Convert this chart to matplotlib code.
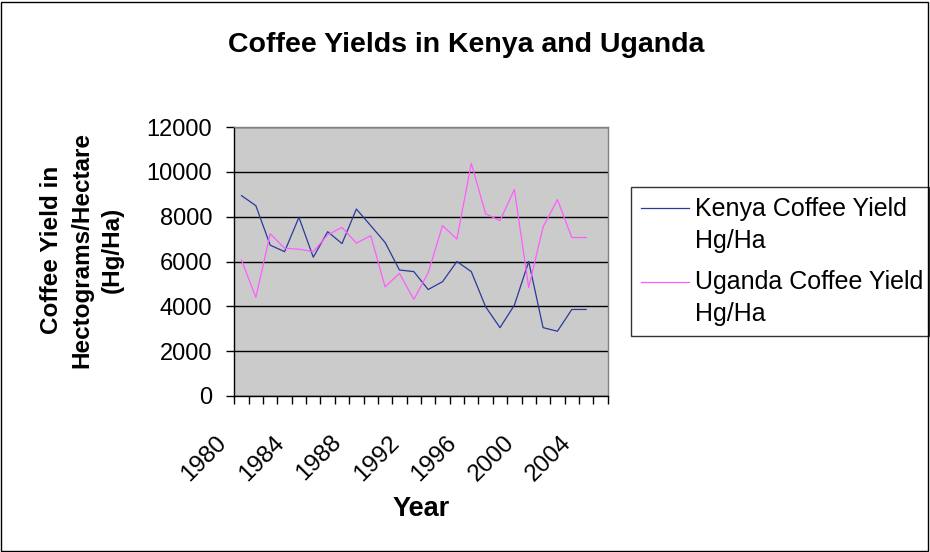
import matplotlib
matplotlib.use("Agg")
import matplotlib.pyplot as plt
import matplotlib.lines as mlines
from matplotlib.patches import Rectangle
from matplotlib.legend_handler import HandlerLine2D
from matplotlib.transforms import ScaledTranslation
import numpy as np

years = list(range(1980, 2006))
kenya = [8940, 8490, 6730, 6440, 7970, 6190, 7330, 6800, 8340, 7600, 6850, 5620,
         5550, 4750, 5100, 6000, 5550, 3980, 3050, 4050, 6000, 3050, 2890, 3860, 3860]
uganda = [6070, 4400, 7240, 6590, 6550, 6440, 7190, 7520, 6820, 7150, 4870, 5470,
          4310, 5500, 7600, 7000, 10380, 8130, 7820, 9210, 4840, 7540, 8760, 7070, 7070]
tick_years = [1980, 1984, 1988, 1992, 1996, 2000, 2004]
yticks = [0, 2000, 4000, 6000, 8000, 10000, 12000]

plt.rcParams['font.family'] = ['Liberation Sans', 'DejaVu Sans']

fig = plt.figure(figsize=(9.3, 5.52), dpi=100)
W, H = 930, 552
ax = fig.add_axes([234.3 / W, 1 - 396 / H, (607.7 - 234.3) / W, (396 - 127) / H])
ax.set_facecolor('#CBCBCB')

idx_k = np.arange(len(kenya))
idx_u = np.arange(len(uganda))
ax.plot(idx_k, kenya, color='#2A3A9C', lw=0.9, label='Kenya Coffee Yield\nHg/Ha')
ax.plot(idx_u, uganda, color='#FF5CFF', lw=0.9, label='Uganda Coffee Yield\nHg/Ha')

ax.set_xlim(-0.5, len(years) - 0.5)
ax.set_ylim(0, 12000)
ax.set_yticks(yticks)
ax.set_yticklabels([str(v) for v in yticks], fontsize=17)
ax.yaxis.grid(True, color='black', lw=1)
ax.set_axisbelow(True)

ax.set_xticks([years.index(y) for y in tick_years])
ax.set_xticklabels([str(y) for y in tick_years], fontsize=17.5, rotation=45,
                   ha='right', va='top', rotation_mode='anchor')
ax.set_xticks(np.arange(-0.5, len(years)), minor=True)
ax.tick_params(axis='x', which='major', length=0, pad=14)
ax.tick_params(axis='x', which='minor', length=6, width=1, color='black', direction='out')
ax.tick_params(axis='y', length=6, width=1, direction='out', pad=10)
offset = ScaledTranslation(-26 / 100, -16 / 100, fig.dpi_scale_trans)
for lab in ax.get_xticklabels():
    lab.set_transform(lab.get_transform() + offset)

for s in ['top', 'right']:
    ax.spines[s].set_color('#808080')
    ax.spines[s].set_linewidth(1)
for s in ['left', 'bottom']:
    ax.spines[s].set_color('black')
    ax.spines[s].set_linewidth(1)

fig.text(466 / W, 1 - 45 / H, 'Coffee Yields in Kenya and Uganda', ha='center', va='center',
         fontsize=20.5, fontweight='bold')
fig.text(82 / W, 1 - 250 / H, 'Coffee Yield in\nHectograms/Hectare\n(Hg/Ha)', ha='center',
         va='center', rotation=90, fontsize=17.5, fontweight='bold', linespacing=1.42)
fig.text(421 / W, 1 - 509 / H, 'Year', ha='center', va='center', fontsize=19.5, fontweight='bold')

LFS = 18
LSP = 1.42


class FirstLineHandler(HandlerLine2D):
    def create_artists(self, legend, orig_handle, xdescent, ydescent, width, height,
                       fontsize, trans):
        arts = super().create_artists(legend, orig_handle, xdescent, ydescent, width,
                                      height, fontsize, trans)
        for a in arts:
            y = np.asarray(a.get_ydata(), dtype=float)
            a.set_ydata(y + 0.58 * fontsize * LSP / 1.2)
        return arts


leg = ax.legend(loc='upper left',
                bbox_to_anchor=(630.7 / W, 1 - 333 / H, (929 - 630.7) / W, (333 - 186.7) / H),
                bbox_transform=fig.transFigure, mode='expand', fontsize=LFS, frameon=True,
                fancybox=False, handlelength=1.92, handletextpad=0.24, borderpad=0.4,
                labelspacing=0.7, borderaxespad=0,
                handler_map={mlines.Line2D: FirstLineHandler()})
for t in leg.get_texts():
    t.set_linespacing(LSP)
leg.get_frame().set_edgecolor('black')
leg.get_frame().set_linewidth(1)

fig.patches.append(Rectangle((1 / W, 1 / H), 1 - 3 / W, 1 - 3 / H, transform=fig.transFigure,
                             fill=False, edgecolor='black', lw=1))

fig.savefig('out.png', dpi=100)
